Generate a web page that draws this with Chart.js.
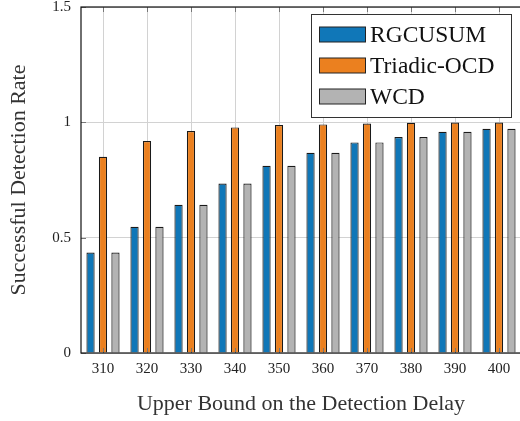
<!DOCTYPE html>
<html><head><meta charset="utf-8">
<script src="https://cdn.jsdelivr.net/npm/chart.js@4.4.0/dist/chart.umd.min.js"></script>
<style>html,body{margin:0;padding:0;background:#fff;overflow:hidden;width:520px;height:421px}</style>
</head><body>
<canvas id="c" width="523" height="421" style="display:block"></canvas>
<script>
const categories = ['310','320','330','340','350','360','370','380','390','400'];
const rgcusum = [0.436, 0.547, 0.643, 0.735, 0.812, 0.868, 0.913, 0.936, 0.959, 0.972];
const triadic = [0.851, 0.919, 0.962, 0.978, 0.988, 0.991, 0.995, 0.998, 0.999, 0.999];
const wcd = [0.436, 0.547, 0.643, 0.735, 0.812, 0.868, 0.913, 0.936, 0.959, 0.972];
const yTicks = [0, 0.5, 1, 1.5];
const seriesNames = ['RGCUSUM', 'Triadic-OCD', 'WCD'];
const FONT = '"Liberation Serif", "Times New Roman", serif';

const legendBox = {
  id: 'legendBox',
  afterDraw(chart) {
    const ctx = chart.ctx;
    ctx.save();
    const x0 = 311.5, y0 = 14.5, w = 200, h = 103;
    ctx.fillStyle = '#fff';
    ctx.fillRect(x0, y0, w, h);
    ctx.strokeStyle = '#333';
    ctx.lineWidth = 1;
    ctx.strokeRect(x0, y0, w, h);
    chart.data.datasets.forEach((ds, i) => {
      const cy = 34.5 + i * 31;
      ctx.fillStyle = ds.backgroundColor;
      ctx.fillRect(319.5, cy - 7.5, 46, 15);
      ctx.strokeStyle = '#222';
      ctx.strokeRect(319.5, cy - 7.5, 46, 15);
      ctx.fillStyle = '#111';
      ctx.font = '23.5px ' + FONT;
      ctx.textBaseline = 'middle';
      ctx.textAlign = 'left';
      ctx.fillText(ds.label, 370, cy + 1);
    });
    ctx.restore();
  }
};

const innerTicks = {
  id: 'innerTicks',
  afterDatasetsDraw(chart) {
    const ctx = chart.ctx, a = chart.chartArea;
    const xs = chart.scales.x, ys = chart.scales.y;
    ctx.save();
    ctx.strokeStyle = '#777';
    ctx.lineWidth = 1;
    ctx.beginPath();
    categories.forEach((c, i) => {
      const x = Math.round(xs.getPixelForValue(i)) + 0.5;
      ctx.moveTo(x, a.top); ctx.lineTo(x, a.top + 5);
      ctx.moveTo(x, a.bottom); ctx.lineTo(x, a.bottom - 5);
    });
    yTicks.forEach(v => {
      const y = Math.round(ys.getPixelForValue(v)) + 0.5;
      ctx.moveTo(a.left, y); ctx.lineTo(a.left + 5, y);
    });
    ctx.stroke();
    ctx.strokeStyle = '#111';
    ctx.lineWidth = 1.2;
    ctx.strokeRect(a.left, a.top, a.right - a.left, a.bottom - a.top);
    ctx.restore();
  }
};

function ds(label, data, color) {
  return { label, data, backgroundColor: color, borderColor: '#1a1a1a', borderWidth: 1.2,
    categoryPercentage: 0.85, barPercentage: 0.66 };
}

new Chart(document.getElementById('c'), {
  type: 'bar',
  data: {
    labels: categories,
    datasets: [
      ds(seriesNames[0], rgcusum, '#1077b8'),
      ds(seriesNames[1], triadic, '#eb801f'),
      ds(seriesNames[2], wcd, '#b3b3b3')
    ]
  },
  options: {
    responsive: false,
    animation: false,
    layout: { padding: { top: 7, right: 2, left: 0, bottom: 0 } },
    plugins: { legend: { display: false }, tooltip: { enabled: false } },
    scales: {
      x: {
        grid: { color: '#d2d2d2', offset: false, drawTicks: false, lineWidth: 1 },
        border: { display: false },
        ticks: { color: '#222', font: { family: FONT, size: 15 }, padding: 7, maxRotation: 0 },
        title: { display: true, text: 'Upper Bound on the Detection Delay', color: '#333',
          font: { family: FONT, size: 22 }, padding: { top: 0 } },
        afterFit(s) { s.height = 68; s.paddingLeft = 0; s.paddingRight = 0; }
      },
      y: {
        min: 0, max: 1.5,
        afterBuildTicks(s) { s.ticks = yTicks.map(v => ({ value: v })); },
        grid: { color: '#d2d2d2', drawTicks: false },
        border: { display: false },
        ticks: { color: '#222', font: { family: FONT, size: 15 }, padding: 10,
          callback: v => String(v) },
        title: { display: true, text: 'Successful Detection Rate', color: '#333',
          font: { family: FONT, size: 22 }, padding: { bottom: 0, top: 6 } },
        afterFit(s) { s.width = 81; s.paddingTop = 0; s.paddingBottom = 0; }
      }
    }
  },
  plugins: [innerTicks, legendBox]
});
</script>
</body></html>
